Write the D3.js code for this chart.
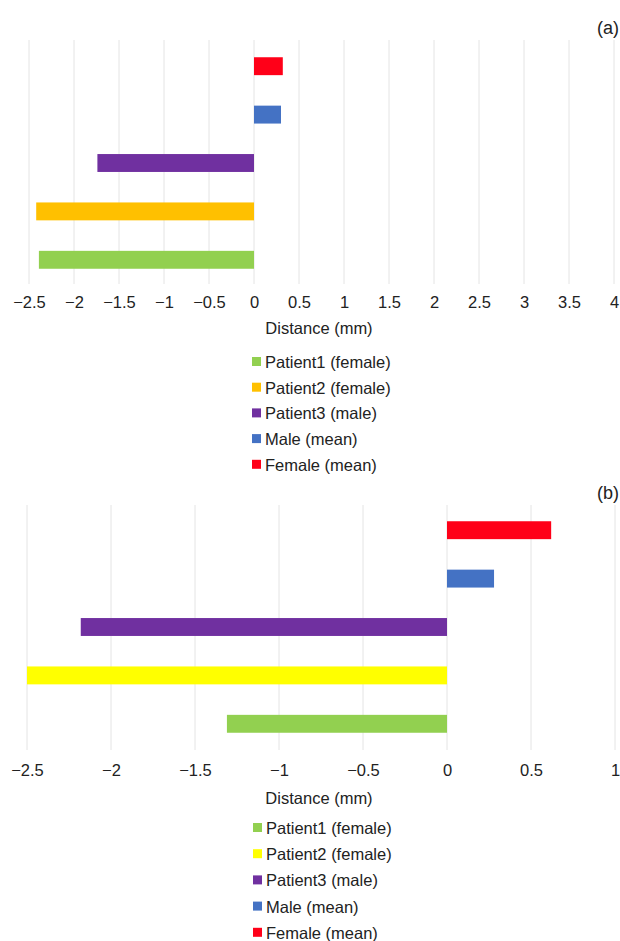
<!DOCTYPE html>
<html>
<head>
<meta charset="utf-8">
<script src="https://cdn.jsdelivr.net/npm/d3@7"></script>
<style>
  html, body { margin: 0; padding: 0; background: #fff; }
  svg { display: block; font-family: "Liberation Sans", Arial, sans-serif; }
</style>
</head>
<body>
<svg id="chart" width="620" height="941"></svg>
<script>
// ---- data ----
const categories = ["Patient1 (female)", "Patient2 (female)", "Patient3 (male)", "Male (mean)", "Female (mean)"];
const valuesA = [-2.39, -2.42, -1.74, 0.30, 0.32];
const valuesB = [-1.31, -2.50, -2.18, 0.28, 0.62];
const colorsA = ["#92d050", "#ffc000", "#7030a0", "#4472c4", "#ff0018"];
const colorsB = ["#92d050", "#ffff00", "#7030a0", "#4472c4", "#ff0018"];
const ticksA = [-2.5, -2, -1.5, -1, -0.5, 0, 0.5, 1, 1.5, 2, 2.5, 3, 3.5, 4];
const ticksB = [-2.5, -2, -1.5, -1, -0.5, 0, 0.5, 1];
const axisTitle = "Distance (mm)";
const panelLabels = ["(a)", "(b)"];

const svg = d3.select("#chart");
const fmt = v => (v < 0 ? "\u2212" + String(Math.abs(v)) : String(v));
const FS = 16.5;

function drawPanel(cfg) {
  const g = svg.append("g");
  const x = d3.scaleLinear().domain([cfg.ticks[0], cfg.ticks[cfg.ticks.length - 1]]).range([cfg.x0, cfg.x1]);
  const y = d3.scaleBand().domain(categories.slice().reverse()).range([cfg.yTop, cfg.yBottom])
    .paddingInner(0.63).paddingOuter(0.315);

  g.append("g").selectAll("line").data(cfg.ticks).join("line")
    .attr("x1", d => x(d)).attr("x2", d => x(d))
    .attr("y1", cfg.gridTop).attr("y2", cfg.gridBottom)
    .attr("stroke", "#e4e4e4").attr("stroke-width", 1);

  const data = categories.map((c, i) => ({ c, v: cfg.values[i], col: cfg.colors[i] }));
  g.append("g").selectAll("rect").data(data).join("rect")
    .attr("x", d => x(Math.min(0, d.v)))
    .attr("width", d => Math.abs(x(d.v) - x(0)))
    .attr("y", d => y(d.c))
    .attr("height", y.bandwidth())
    .attr("fill", d => d.col);

  const axis = d3.axisBottom(x).tickValues(cfg.ticks).tickFormat(fmt).tickSize(0).tickPadding(0);
  const ag = g.append("g").attr("transform", `translate(0,${cfg.tickY})`).call(axis);
  ag.select(".domain").remove();
  ag.selectAll("text").attr("font-size", FS).attr("fill", "#222")
    .attr("font-family", "'Liberation Sans', Arial, sans-serif").attr("dy", "0");

  g.append("text").attr("x", 319).attr("y", cfg.titleY).attr("text-anchor", "middle")
    .attr("font-size", FS).attr("fill", "#222").text(axisTitle);

  g.append("text").attr("x", 619).attr("y", cfg.labelY).attr("text-anchor", "end")
    .attr("font-size", 18).attr("fill", "#222").text(cfg.label);

  const lg = g.append("g");
  const items = lg.selectAll("g").data(data).join("g")
    .attr("transform", (d, i) => `translate(${cfg.legX},${cfg.legY0 + i * cfg.legStep})`);
  items.append("rect").attr("x", 0).attr("y", -5).attr("width", 9).attr("height", 9).attr("fill", d => d.col);
  items.append("text").attr("x", 13).attr("y", 6).attr("font-size", FS).attr("fill", "#222").text(d => d.c);
}

drawPanel({
  values: valuesA, colors: colorsA, ticks: ticksA, label: panelLabels[0],
  x0: 29, x1: 614, yTop: 42, yBottom: 284, gridTop: 40, gridBottom: 284,
  tickY: 308, titleY: 334, labelY: 34,
  legX: 252, legY0: 362, legStep: 25.7
});
drawPanel({
  values: valuesB, colors: colorsB, ticks: ticksB, label: panelLabels[1],
  x0: 27, x1: 615, yTop: 506, yBottom: 748, gridTop: 505, gridBottom: 750,
  tickY: 776, titleY: 804, labelY: 499,
  legX: 253, legY0: 828, legStep: 26.2
});
</script>
</body>
</html>
